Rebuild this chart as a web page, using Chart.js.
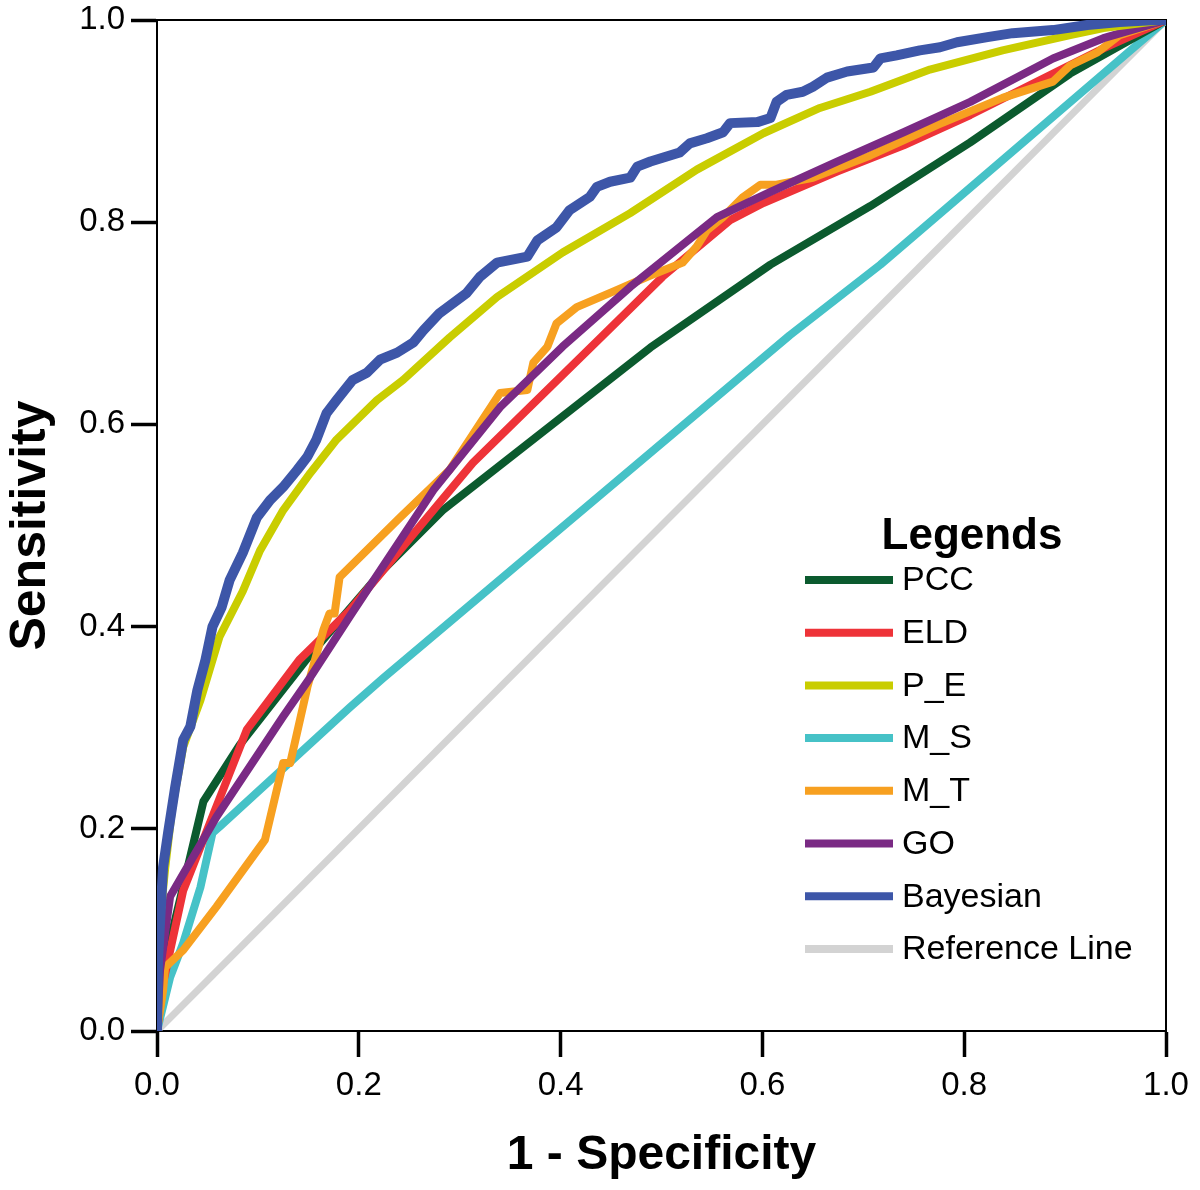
<!DOCTYPE html>
<html>
<head>
<meta charset="utf-8">
<script src="https://cdn.jsdelivr.net/npm/chart.js@4.4.1/dist/chart.umd.min.js"></script>
<style>
html,body{margin:0;padding:0;background:#fff;}
canvas{display:block;}
</style>
</head>
<body>
<canvas id="c" width="1200" height="1190"></canvas>
<script>
// ---- data ----
const seriesNames = ["PCC", "ELD", "P_E", "M_S", "M_T", "GO", "Bayesian", "Reference Line"];
const tickLabels = ["0.0", "0.2", "0.4", "0.6", "0.8", "1.0"];

const pccX = [0, 0.006, 0.03, 0.046, 0.082, 0.15, 0.224, 0.283, 0.42, 0.489, 0.608, 0.707, 0.806, 0.905, 1];
const pccY = [0, 0.06, 0.16, 0.227, 0.283, 0.37, 0.456, 0.515, 0.622, 0.676, 0.758, 0.816, 0.879, 0.947, 1];

const eldX = [0, 0.006, 0.026, 0.089, 0.141, 0.191, 0.313, 0.44, 0.501, 0.568, 0.601, 0.674, 0.74, 0.806, 0.898, 0.938, 1];
const eldY = [0, 0.047, 0.139, 0.298, 0.367, 0.416, 0.562, 0.686, 0.746, 0.802, 0.819, 0.85, 0.876, 0.906, 0.952, 0.972, 1];

const peX = [0, 0, 0.008, 0.015, 0.026, 0.043, 0.062, 0.085, 0.102, 0.125, 0.152, 0.178, 0.218, 0.244, 0.29, 0.337, 0.402, 0.469, 0.535, 0.601, 0.657, 0.707, 0.766, 0.838, 0.905, 0.938, 1];
const peY = [0, 0.08, 0.16, 0.22, 0.281, 0.327, 0.39, 0.435, 0.475, 0.515, 0.552, 0.585, 0.624, 0.644, 0.686, 0.726, 0.77, 0.809, 0.852, 0.888, 0.913, 0.929, 0.951, 0.97, 0.985, 0.992, 1];

const msX = [0, 0.013, 0.026, 0.043, 0.055, 0.062, 0.191, 0.224, 0.627, 0.717, 1];
const msY = [0, 0.053, 0.087, 0.142, 0.196, 0.202, 0.32, 0.349, 0.688, 0.758, 1];

const mtX = [0, 0.006, 0.008, 0.026, 0.059, 0.107, 0.125, 0.132, 0.149, 0.165, 0.171, 0.176, 0.181, 0.241, 0.29, 0.34, 0.367, 0.373, 0.387, 0.396, 0.416, 0.456, 0.486, 0.521, 0.535, 0.545, 0.561, 0.581, 0.598, 0.614, 0.65, 0.707, 0.773, 0.838, 0.888, 0.905, 0.932, 0.954, 1];
const mtY = [0, 0.04, 0.063, 0.08, 0.123, 0.189, 0.265, 0.265, 0.34, 0.397, 0.413, 0.413, 0.449, 0.508, 0.555, 0.631, 0.634, 0.661, 0.677, 0.7, 0.716, 0.733, 0.746, 0.76, 0.776, 0.792, 0.805, 0.825, 0.837, 0.837, 0.844, 0.866, 0.896, 0.923, 0.939, 0.955, 0.968, 0.985, 1];

const goX = [0, 0.003, 0.013, 0.059, 0.125, 0.152, 0.191, 0.274, 0.34, 0.402, 0.469, 0.555, 0.608, 0.674, 0.74, 0.806, 0.888, 0.938, 1];
const goY = [0, 0.06, 0.133, 0.212, 0.311, 0.35, 0.41, 0.535, 0.617, 0.677, 0.736, 0.805, 0.83, 0.86, 0.889, 0.919, 0.962, 0.982, 1];

const bayX = [0, 0.001, 0.006, 0.011, 0.018, 0.026, 0.033, 0.040, 0.048, 0.055, 0.064, 0.072, 0.085, 0.099, 0.112, 0.125, 0.139, 0.149, 0.158, 0.168, 0.178, 0.194, 0.208, 0.221, 0.238, 0.254, 0.264, 0.280, 0.307, 0.320, 0.337, 0.367, 0.377, 0.396, 0.409, 0.429, 0.436, 0.449, 0.469, 0.476, 0.489, 0.518, 0.528, 0.545, 0.561, 0.568, 0.595, 0.608, 0.614, 0.624, 0.640, 0.650, 0.664, 0.684, 0.710, 0.717, 0.733, 0.756, 0.776, 0.793, 0.823, 0.848, 0.888, 0.922, 0.954, 0.99, 1];
const bayY = [0, 0.07, 0.162, 0.196, 0.241, 0.288, 0.301, 0.337, 0.367, 0.400, 0.419, 0.446, 0.473, 0.508, 0.525, 0.538, 0.555, 0.568, 0.585, 0.611, 0.624, 0.644, 0.651, 0.664, 0.671, 0.681, 0.693, 0.710, 0.730, 0.746, 0.760, 0.766, 0.782, 0.795, 0.812, 0.825, 0.835, 0.840, 0.844, 0.855, 0.860, 0.869, 0.878, 0.883, 0.889, 0.898, 0.899, 0.903, 0.919, 0.926, 0.929, 0.934, 0.943, 0.949, 0.953, 0.962, 0.965, 0.970, 0.973, 0.978, 0.983, 0.987, 0.990, 0.995, 0.998, 1, 1];

const refX = [0, 1];
const refY = [0, 1];

// ---- build ----
const colors = ["#0b5a2e", "#ee3338", "#c9cd00", "#46c2c7", "#f7a020", "#7a2a84", "#3d56a8", "#d3d3d3"];
const widths = [8, 8, 8, 8, 8, 8, 10, 7];
const drawOrder = [5, 4, 1, 6, 3, 2, 0, 7]; // lower = on top
const xs = [pccX, eldX, peX, msX, mtX, goX, bayX, refX];
const ys = [pccY, eldY, peY, msY, mtY, goY, bayY, refY];

function pts(xa, ya) { return xa.map((v, i) => ({ x: v, y: ya[i] })); }

const datasets = seriesNames.map((name, i) => ({
  label: name,
  data: pts(xs[i], ys[i]),
  borderColor: colors[i],
  backgroundColor: colors[i],
  borderWidth: widths[i],
  pointRadius: 0,
  tension: 0,
  fill: false,
  order: drawOrder[i],
  borderJoinStyle: 'round',
  borderCapStyle: 'butt'
}));

const FONT = "'Liberation Sans', Arial, Helvetica, sans-serif";

const framePlugin = {
  id: 'frame',
  beforeDatasetsDraw(chart) {
    const { ctx, chartArea: a } = chart;
    ctx.save();
    ctx.strokeStyle = '#000';
    ctx.lineWidth = 2;
    ctx.beginPath();
    ctx.moveTo(a.left, a.top);
    ctx.lineTo(a.right, a.top);
    ctx.lineTo(a.right, a.bottom);
    ctx.stroke();
    ctx.restore();
  }
};

const legendPlugin = {
  id: 'customLegend',
  afterDraw(chart) {
    const { ctx } = chart;
    const ds = chart.data.datasets;
    ctx.save();
    ctx.fillStyle = '#000';
    ctx.font = "bold 44px " + FONT;
    ctx.textAlign = 'center';
    ctx.textBaseline = 'alphabetic';
    ctx.fillText('Legends', 972, 549);
    ctx.font = "34px " + FONT;
    ctx.textAlign = 'left';
    ctx.textBaseline = 'middle';
    const y0 = 580, dy = 52.7;
    ds.forEach((d, i) => {
      const y = y0 + i * dy;
      ctx.strokeStyle = d.borderColor;
      ctx.lineWidth = 8;
      ctx.lineCap = 'butt';
      ctx.beginPath();
      ctx.moveTo(805, y);
      ctx.lineTo(893, y);
      ctx.stroke();
      ctx.fillStyle = '#000';
      ctx.fillText(d.label, 902, y + 1);
    });
    ctx.restore();
  }
};

function zeroPad(s) { s.paddingTop = 0; s.paddingBottom = 0; s.paddingLeft = 0; s.paddingRight = 0; }

new Chart(document.getElementById('c'), {
  type: 'line',
  data: { datasets },
  options: {
    responsive: false,
    devicePixelRatio: 1,
    animation: false,
    layout: { padding: { left: 0, top: 20, right: 34, bottom: 0 } },
    plugins: { legend: { display: false }, tooltip: { enabled: false } },
    scales: {
      x: {
        type: 'linear', min: 0, max: 1,
        afterFit(s) { s.height = 159; zeroPad(s); },
        ticks: { stepSize: 0.2, padding: 9, color: '#000', font: { family: FONT, size: 33 }, callback: (v, i) => tickLabels[i], maxRotation: 0 },
        grid: { drawOnChartArea: false, drawTicks: true, tickLength: 26, tickWidth: 3.5, tickColor: '#000' },
        border: { display: true, color: '#000', width: 2 },
        title: { display: true, text: '1 - Specificity', color: '#000', font: { family: FONT, size: 48, weight: 'bold' }, padding: { top: 0, bottom: 5 } }
      },
      y: {
        type: 'linear', min: 0, max: 1,
        afterFit(s) { s.width = 157; zeroPad(s); },
        ticks: { stepSize: 0.2, padding: 6, color: '#000', font: { family: FONT, size: 33 }, callback: (v, i) => tickLabels[i] },
        grid: { drawOnChartArea: false, drawTicks: true, tickLength: 26, tickWidth: 3.5, tickColor: '#000' },
        border: { display: true, color: '#000', width: 2 },
        title: { display: true, text: 'Sensitivity', color: '#000', font: { family: FONT, size: 50, weight: 'bold' }, padding: { top: 1, bottom: 0 } }
      }
    }
  },
  plugins: [framePlugin, legendPlugin]
});
</script>
</body>
</html>
